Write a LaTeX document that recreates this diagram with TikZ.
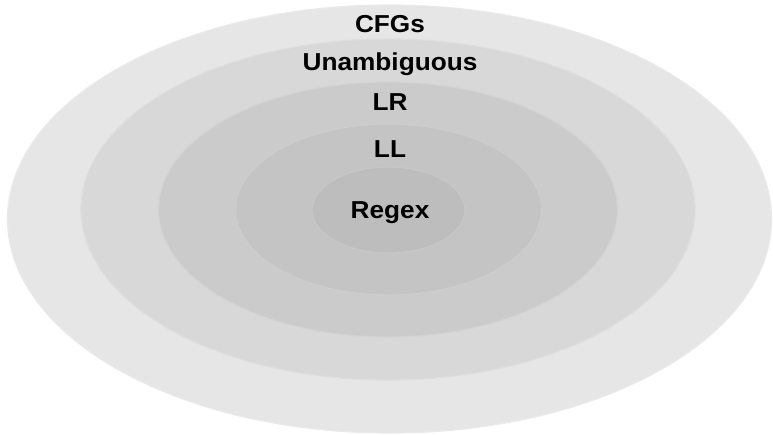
\documentclass[tikz,border=0pt]{standalone}
\usepackage{fontspec}
\usepackage{graphicx}
\setmainfont{Liberation Sans}
\newcommand{\wide}[1]{\scalebox{1.07}[1]{#1}}
\begin{document}
\begin{tikzpicture}[x=1pt,y=-1pt,
  ring/.style={draw=#1!85!white, line width=1.2pt, fill=#1},
  lbl/.style={font=\fontsize{24.5}{28}\selectfont\bfseries, text=black, inner sep=0pt, anchor=base}]
\definecolor{c1}{HTML}{E6E6E6}
\definecolor{c2}{HTML}{D8D8D8}
\definecolor{c3}{HTML}{CBCBCB}
\definecolor{c4}{HTML}{C4C4C4}
\definecolor{c5}{HTML}{BDBDBD}
\useasboundingbox (0,0) rectangle (773,434);
\path[ring=c1] (389.5,219) ellipse [x radius=382, y radius=214];
\path[ring=c2] (388,209.5) ellipse [x radius=307, y radius=170.5];
\path[ring=c3] (388,209.5) ellipse [x radius=229.5, y radius=127.5];
\path[ring=c4] (388.5,209.5) ellipse [x radius=153, y radius=85.5];
\path[ring=c5] (388.5,210) ellipse [x radius=76.5, y radius=43];
\node[lbl] (cfg) at (390,32) {\wide{CFGs}};
\node[lbl] (una) at (390,70.5) {\wide{Unambiguous}};
\node[lbl] (lr) at (390,110) {\wide{LR}};
\node[lbl] (ll) at (390,157) {\wide{LL}};
\node[lbl] (re) at (390,218) {\wide{Regex}};
\end{tikzpicture}
\end{document}
